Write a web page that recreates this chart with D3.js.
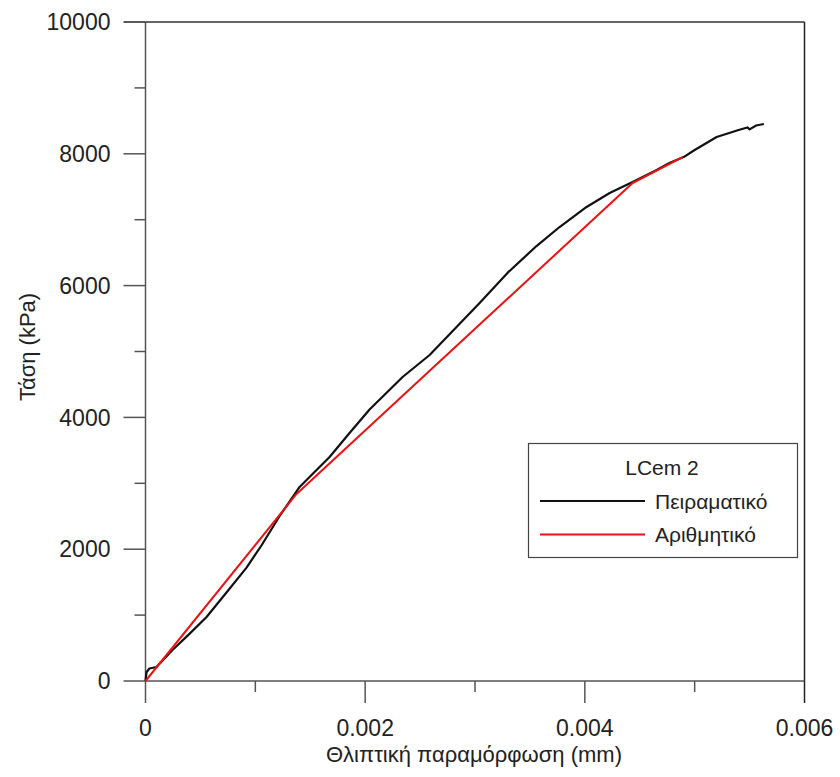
<!DOCTYPE html>
<html>
<head>
<meta charset="utf-8">
<script src="https://cdn.jsdelivr.net/npm/d3@7"></script>
<style>
  html, body { margin: 0; padding: 0; background: #fff; }
  svg text { font-family: "Liberation Sans", Arial, sans-serif; fill: #222; }
</style>
</head>
<body>
<svg id="chart" width="840" height="777"></svg>
<script>
// Experimental curve (Πειραματικό): strain (mm), stress (kPa)
const expStrain = [0, 0.00001, 0.000036, 0.0001, 0.000246, 0.0004, 0.000556, 0.000765, 0.00092, 0.001057, 0.00122, 0.001403, 0.001539, 0.001676, 0.001858, 0.00204, 0.002341, 0.002587, 0.002832, 0.003042, 0.0033, 0.00356, 0.00377, 0.004016, 0.004226, 0.004435, 0.004654, 0.00477, 0.0049, 0.005, 0.0052, 0.0054, 0.00548, 0.00550, 0.00556, 0.00563];
const expStress = [0, 137, 190, 212, 470, 715, 971, 1400, 1720, 2060, 2500, 2944, 3171, 3399, 3763, 4120, 4613, 4947, 5372, 5736, 6200, 6600, 6889, 7193, 7405, 7572, 7754, 7860, 7950, 8058, 8255, 8361, 8400, 8370, 8430, 8452];
// Numerical curve (Αριθμητικό)
const numStrain = [0, 0.001375, 0.004435, 0.00489];
const numStress = [0, 2838, 7557, 7951];

const xTicks = [0, 0.002, 0.004, 0.006];
const xTickLabels = ["0", "0.002", "0.004", "0.006"];
const xMinorTicks = [0.001, 0.003, 0.005];
const yTicks = [0, 2000, 4000, 6000, 8000, 10000];
const yTickLabels = ["0", "2000", "4000", "6000", "8000", "10000"];
const yMinorTicks = [1000, 3000, 5000, 7000, 9000];

const legendTitle = "LCem 2";
const seriesNames = ["Πειραματικό", "Αριθμητικό"];
const seriesColors = ["#111111", "#ee1111"];
const xTitle = "Θλιπτική παραμόρφωση (mm)";
const yTitle = "Τάση (kPa)";

const svg = d3.select("#chart");
const L = 145.5, R = 804.5, T = 22, B = 681;
const x = d3.scaleLinear().domain([0, 0.006]).range([L, R]);
const y = d3.scaleLinear().domain([0, 10000]).range([B, T]);

const axisColor = "#555";
const fs = 23;

// frame (top and right)
svg.append("line").attr("x1", L).attr("x2", R).attr("y1", T).attr("y2", T)
  .attr("stroke", "#333").attr("stroke-width", 1.5);
svg.append("line").attr("x1", R).attr("x2", R).attr("y1", T).attr("y2", B)
  .attr("stroke", "#222").attr("stroke-width", 1.5);

// x axis
const xAxis = svg.append("g").attr("transform", `translate(0,${B})`);
xAxis.append("line").attr("x1", L).attr("x2", R).attr("stroke", axisColor).attr("stroke-width", 1.5);
xAxis.selectAll(".maj").data(xTicks).enter().append("line")
  .attr("x1", d => x(d)).attr("x2", d => x(d)).attr("y1", 0).attr("y2", 22)
  .attr("stroke", (d, i) => i === xTicks.length - 1 ? "#222" : axisColor).attr("stroke-width", 1.5);
xAxis.selectAll(".min").data(xMinorTicks).enter().append("line")
  .attr("x1", d => x(d)).attr("x2", d => x(d)).attr("y1", 0).attr("y2", 11)
  .attr("stroke", axisColor).attr("stroke-width", 1.5);
xAxis.selectAll("text").data(xTicks).enter().append("text")
  .attr("x", d => x(d)).attr("y", 55).attr("text-anchor", "middle")
  .attr("font-size", fs).text((d, i) => xTickLabels[i]);

// y axis
const yAxis = svg.append("g").attr("transform", `translate(${L},0)`);
yAxis.append("line").attr("y1", T).attr("y2", B).attr("stroke", axisColor).attr("stroke-width", 1.5);
yAxis.selectAll(".maj").data(yTicks).enter().append("line")
  .attr("y1", d => y(d)).attr("y2", d => y(d)).attr("x1", 0).attr("x2", -22)
  .attr("stroke", (d, i) => i === yTicks.length - 1 ? "#222" : axisColor).attr("stroke-width", 1.5);
yAxis.selectAll(".min").data(yMinorTicks).enter().append("line")
  .attr("y1", d => y(d)).attr("y2", d => y(d)).attr("x1", 0).attr("x2", -11)
  .attr("stroke", axisColor).attr("stroke-width", 1.5);
yAxis.selectAll("text").data(yTicks).enter().append("text")
  .attr("x", -35).attr("y", d => y(d)).attr("dy", "0.36em").attr("text-anchor", "end")
  .attr("font-size", fs).text((d, i) => yTickLabels[i]);

// titles
svg.append("text").attr("x", (310 + 638) / 2).attr("y", 762).attr("text-anchor", "middle")
  .attr("font-size", 22).text(xTitle);
svg.append("text").attr("transform", "translate(35,347) rotate(-90)").attr("text-anchor", "middle")
  .attr("font-size", 22).text(yTitle);

// lines
const line = d3.line().x(d => x(d[0])).y(d => y(d[1]));
const expData = expStrain.map((v, i) => [v, expStress[i]]);
const numData = numStrain.map((v, i) => [v, numStress[i]]);
svg.append("path").datum(expData).attr("d", line).attr("fill", "none")
  .attr("stroke", seriesColors[0]).attr("stroke-width", 2.2).attr("stroke-linejoin", "round");
svg.append("path").datum(numData).attr("d", line).attr("fill", "none")
  .attr("stroke", seriesColors[1]).attr("stroke-width", 2).attr("stroke-linejoin", "round");

// legend
const lg = svg.append("g");
lg.append("rect").attr("x", 528.5).attr("y", 443.5).attr("width", 269).attr("height", 114)
  .attr("fill", "#fff").attr("stroke", "#444").attr("stroke-width", 1.2);
lg.append("text").attr("x", 662).attr("y", 475).attr("text-anchor", "middle")
  .attr("font-size", 21).text(legendTitle);
seriesNames.forEach((name, i) => {
  const yy = 501 + i * 33.5;
  lg.append("line").attr("x1", 540).attr("x2", 645).attr("y1", yy).attr("y2", yy)
    .attr("stroke", seriesColors[i]).attr("stroke-width", 2);
  lg.append("text").attr("x", 655).attr("y", yy + 7.5).attr("font-size", 21).text(name);
});
</script>
</body>
</html>
